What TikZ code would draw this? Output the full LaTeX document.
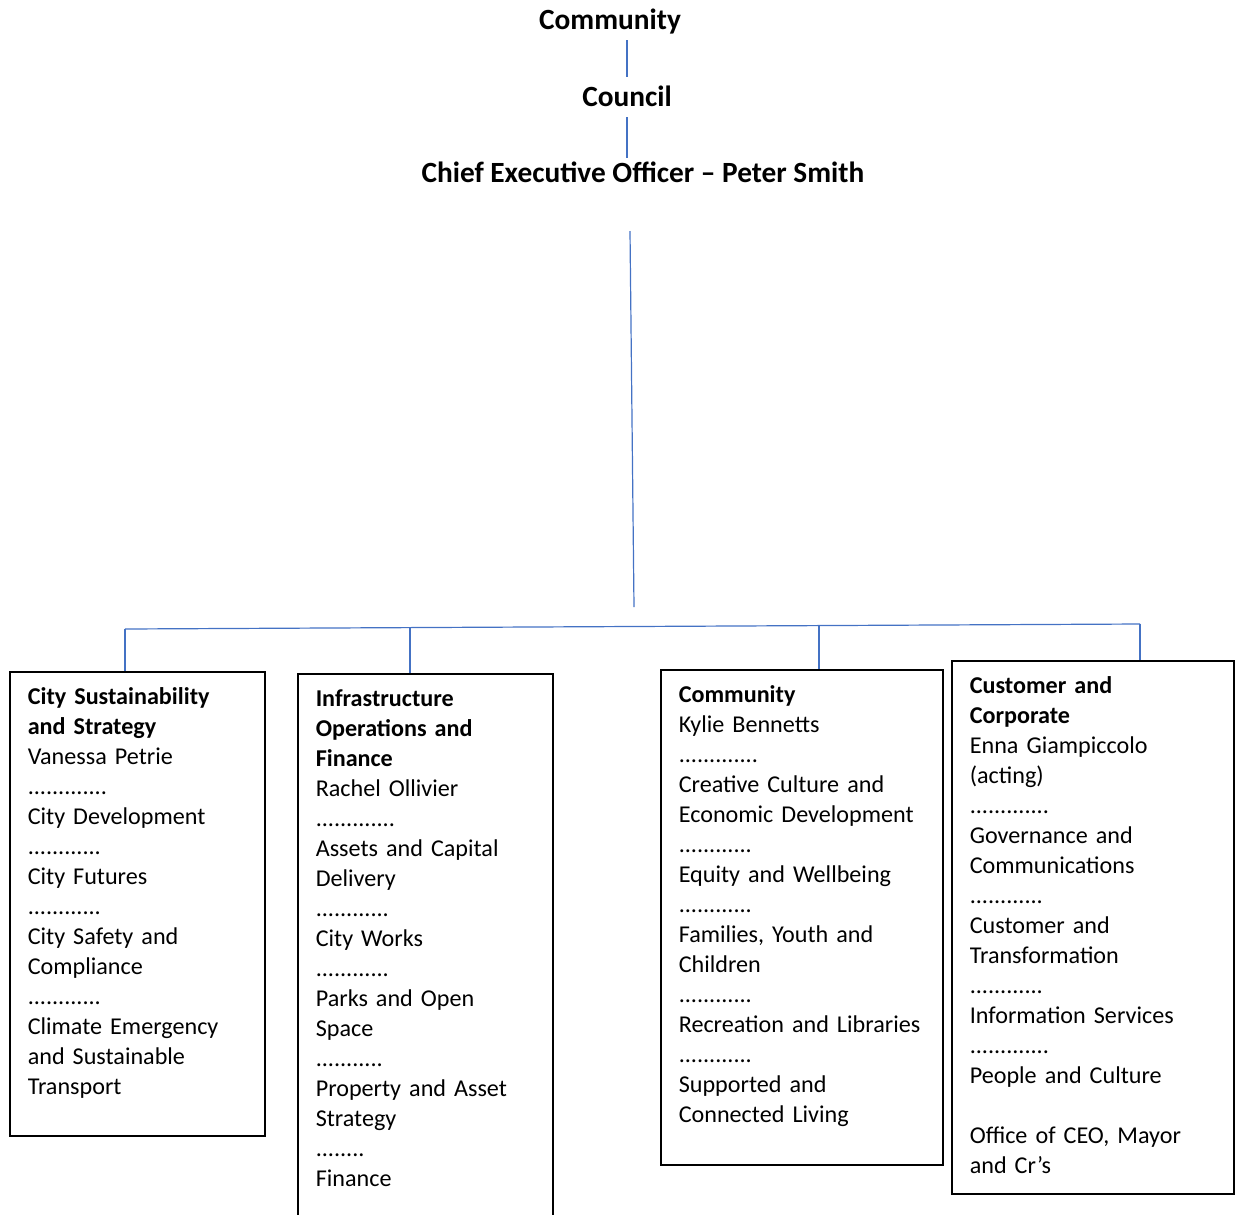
\documentclass[tikz,border=0pt]{standalone}
\usepackage{fontspec}
\setmainfont{Carlito}
\usepackage{tikz}
\usepackage{xcolor}
\definecolor{bleulien}{HTML}{4472C4}
\newcommand{\corps}{\fontsize{18.1pt}{22.5pt}\selectfont}
\newcommand{\titre}{\fontsize{22pt}{27pt}\selectfont\bfseries}

\begin{document}
\begin{tikzpicture}[x=0.75pt,y=-0.75pt]
% Les styles du schéma
\tikzstyle{lien}=[draw=bleulien,line width=0.9pt]
\tikzstyle{entete}=[font=\titre,inner sep=0pt,text height=21.75pt,text depth=8.25pt]
\tikzstyle{boite}=[draw,line width=1.2pt,anchor=north west,align=left,
                   inner xsep=13.5pt,inner ysep=9pt,text height=15.75pt,font=\corps]

\clip (0,0) rectangle (1235,1214);

% Le haut de la hiérarchie
\node[entete] (comm) at (610,20) {Community};
\node[entete] (cons) at (627,97) {Council};
\node[entete] (ceo) at (643,173) {Chief Executive Officer – Peter Smith};

\draw[lien] (comm.south -| cons) -- (cons.north);
\draw[lien,shorten >=-3.75pt] (cons.south) -- (cons.south |- ceo.north);

% Les quatre directions
\node[boite,text width=164.25pt,text depth=314.25pt] (b1) at (9,671)
  {\textbf{City Sustainability}\\ \textbf{and Strategy}\\ Vanessa Petrie\\
   .............\\ City Development\\ ............\\ City Futures\\ ............\\
   City Safety and\\ Compliance\\ ............\\ Climate Emergency\\
   and Sustainable\\ Transport};
\node[boite,text width=164.25pt,text depth=384pt] (b2) at (297,673)
  {\textbf{Infrastructure}\\ \textbf{Operations and}\\ \textbf{Finance}\\
   Rachel Ollivier\\ .............\\ Assets and Capital\\ Delivery\\
   ............\\ City Works\\ ............\\ Parks and Open\\ Space\\
   ...........\\ Property and Asset\\ Strategy\\ ........\\ Finance};
\node[boite,text width=184.5pt,text depth=337.5pt] (b3) at (660,669)
  {\textbf{Community}\\ Kylie Bennetts\\ .............\\ Creative Culture and\\
   Economic Development\\ ............\\ Equity and Wellbeing\\ ............\\
   Families, Youth and\\ Children\\ ............\\ Recreation and Libraries\\
   ............\\ Supported and\\ Connected Living};
\node[boite,text width=184.5pt,text depth=366pt] (b4) at (951,660)
  {\textbf{Customer and}\\ \textbf{Corporate}\\ Enna Giampiccolo\\ (acting)\\
   .............\\ Governance and\\ Communications\\ ............\\
   Customer and\\ Transformation\\ ............\\ Information Services\\
   .............\\ People and Culture\\[22.5pt] Office of CEO, Mayor\\ and Cr’s};

% Le tronc et la barre horizontale
\coordinate (haut) at (630,231);
\coordinate (bas) at (634,607);
\draw[lien] (haut) -- (bas);
\coordinate (eb1) at (125,629);
\coordinate (eb4) at (1140,624);
\draw[lien] (eb1) -- (eb4);

% Les descentes vers chaque boîte
\foreach \x/\y/\b in {125/629/b1, 410/628/b2, 819/626/b3, 1140/624/b4}{
    \coordinate (e\b) at (\x,\y);
    \draw[lien] (e\b) -- (e\b |- \b.north);
}
\end{tikzpicture}
\end{document}
